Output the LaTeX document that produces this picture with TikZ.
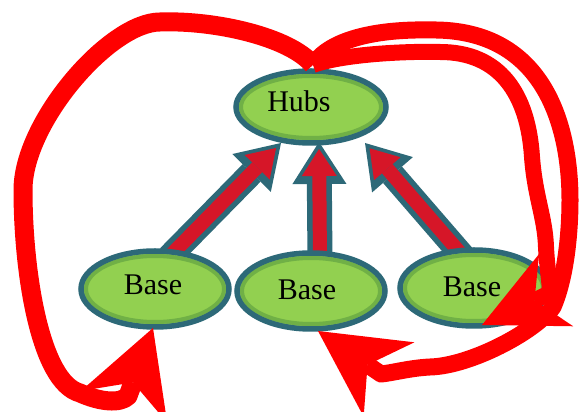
\documentclass[tikz,border=0pt]{standalone}
\usepackage{fontspec}
\setmainfont{Liberation Serif}
\usetikzlibrary{shapes.geometric,arrows.meta,calc}
\pgfdeclarelayer{hublayer}
\pgfdeclarelayer{arrlayer}
\pgfsetlayers{hublayer,arrlayer,main}
\definecolor{tealb}{RGB}{45,105,120}
\definecolor{lgreen}{RGB}{146,208,80}
\definecolor{mgreen}{RGB}{112,176,70}
\definecolor{ared}{RGB}{214,22,40}
\definecolor{lred}{RGB}{255,0,0}
\begin{document}
\begin{tikzpicture}[x=1pt,y=1pt,
  blobbase/.style={ellipse, draw=tealb, line width=5.5pt, fill=lgreen, outer sep=0pt, inner sep=0pt},
  hubblob/.style={blobbase, minimum width=150pt, minimum height=72pt,
    path picture={\draw[mgreen,line width=4pt] (path picture bounding box.center) ellipse [x radius=70pt, y radius=31pt];}},
  baseblob/.style={blobbase, minimum width=148pt, minimum height=76pt,
    path picture={\draw[mgreen,line width=4pt] (path picture bounding box.center) ellipse [x radius=69pt, y radius=33pt];}},
  lbl/.style={font=\fontsize{30}{32}\selectfont, anchor=base, inner sep=0pt},
  fatteal/.style={draw=tealb, line width=25pt, -{Triangle[length=42pt,width=54pt,line width=0pt]}},
  fatred/.style={draw=ared, line width=14pt, shorten >=7pt, -{Triangle[length=27pt,width=35pt,line width=0pt]}},
  redloop/.style={draw=lred, line width=16pt, line join=round},
]
\useasboundingbox (0,0) rectangle (581,412);
\begin{pgfonlayer}{hublayer}
  \fill[white] (0,0) rectangle (581,412);
  \node[hubblob] (hub) at (311,305) {};
\end{pgfonlayer}
\node[baseblob] (bl) at (155,123) {};
\node[baseblob] (bm) at (311,121) {};
\node[baseblob] (br) at (474,124) {};
\begin{pgfonlayer}{arrlayer}
  \draw[fatteal] ($(bl.center)+(14,32)$) -- ($(hub.center)+(-30,-36)$);
  \draw[fatred]  ($(bl.center)+(14,32)$) -- ($(hub.center)+(-30,-36)$);
  \draw[fatteal] ($(bm.center)+(9,30)$) -- ($(hub.center)+(8,-35)$);
  \draw[fatred]  ($(bm.center)+(9,30)$) -- ($(hub.center)+(8,-35)$);
  \draw[fatteal] ($(br.center)+(-6,26)$) -- ($(hub.center)+(54,-36)$);
  \draw[fatred]  ($(br.center)+(-6,26)$) -- ($(hub.center)+(54,-36)$);
\end{pgfonlayer}
\node[lbl] (ht) at (299,300) {Hubs};
\node[lbl] (t1) at (153,117) {Base};
\node[lbl] (t2) at (307,112) {Base};
\node[lbl] (t3) at (472,115) {Base};
% left loop
\draw[redloop, line width=19pt, -{Stealth[length=84pt,width=92pt,inset=26pt,line width=0pt]}]
  ($(hub.north)+(2,6)$) .. controls (290,375) and (215,392) .. (160,390)
  .. controls (110,390) and (23,290) .. (23,222)
  .. controls (23,140) and (40,30) .. (80,19)
  .. controls (100,10) and (120,8) .. (128,16)
  -- ($(bl.center)+(-2,-39)$);
% inner right loop
\draw[redloop, -{Stealth[length=82pt,width=80pt,inset=24pt,line width=0pt]}]
  ($(hub.north)+(2,6)$) .. controls (340,357) and (400,361) .. (440,360)
  .. controls (500,360) and (528,318) .. (532,255)
  .. controls (535,215) and (545,195) .. (546,165)
  .. controls (547,145) and (550,128) .. (550,119)
  -- ($(br.center)+(8,-37)$);
% outer right loop
\draw[redloop, line width=17pt, -{Stealth[length=86pt,width=90pt,inset=26pt,line width=0pt]}]
  ($(hub.north)+(2,6)$) .. controls (330,374) and (380,383) .. (430,382)
  .. controls (548,384) and (570,280) .. (570,212)
  .. controls (570,180) and (566,135) .. (553,105)
  .. controls (535,80) and (470,46) .. (430,45)
  .. controls (410,44) and (392,39) .. (381,38)
  -- ($(bm.center)+(7,-40)$);
\end{tikzpicture}
\end{document}
